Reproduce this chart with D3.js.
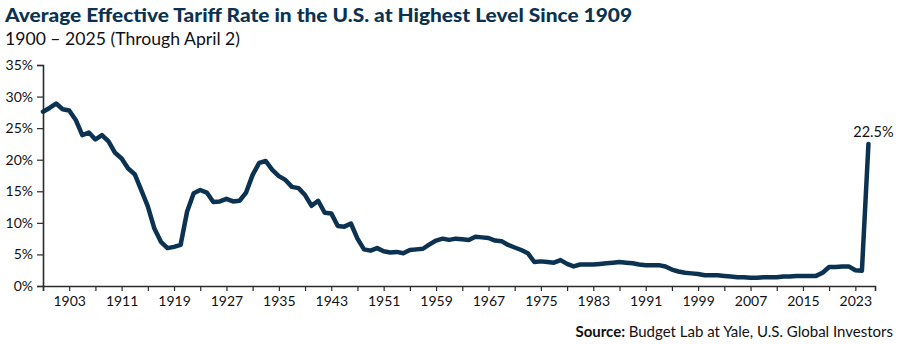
<!DOCTYPE html>
<html>
<head>
<meta charset="utf-8">
<script src="https://cdn.jsdelivr.net/npm/d3@7"></script>
<style>
  body { margin: 0; background: #fff; }
  text { font-family: Lato, "Open Sans", sans-serif; }
</style>
</head>
<body>
<div id="chart"></div>
<script>
// years shown on the category axis (first point sits on the axis origin)
const firstYear = 1899;
const lastYear = 2025;
const years = d3.range(firstYear, lastYear + 1);

// average effective tariff rate, %
const rates = [
  27.6,                                                   // 1899
  28.2, 28.9, 28.0, 27.8, 26.3, 23.9, 24.3, 23.2, 23.9, 22.9, // 1900s
  21.1, 20.2, 18.6, 17.7, 15.2, 12.6, 9.1, 7.0, 6.0, 6.2,     // 1910s
  6.5, 11.8, 14.7, 15.2, 14.8, 13.3, 13.4, 13.8, 13.4, 13.5,  // 1920s
  14.8, 17.6, 19.5, 19.8, 18.4, 17.4, 16.8, 15.7, 15.5, 14.4, // 1930s
  12.7, 13.5, 11.6, 11.5, 9.5, 9.4, 9.9, 7.5, 5.8, 5.6,       // 1940s
  6.0, 5.5, 5.3, 5.4, 5.2, 5.7, 5.8, 5.9, 6.6, 7.2,           // 1950s
  7.5, 7.3, 7.5, 7.4, 7.3, 7.8, 7.7, 7.6, 7.2, 7.1,           // 1960s
  6.5, 6.1, 5.7, 5.2, 3.8, 3.9, 3.8, 3.7, 4.1, 3.5,           // 1970s
  3.1, 3.4, 3.4, 3.4, 3.5, 3.6, 3.7, 3.8, 3.7, 3.6,           // 1980s
  3.4, 3.3, 3.3, 3.3, 3.1, 2.6, 2.3, 2.1, 2.0, 1.9,           // 1990s
  1.7, 1.7, 1.7, 1.6, 1.5, 1.4, 1.4, 1.3, 1.3, 1.4,           // 2000s
  1.4, 1.4, 1.5, 1.5, 1.6, 1.6, 1.6, 1.6, 2.1, 3.0,           // 2010s
  3.0, 3.1, 3.1, 2.5, 2.4, 22.5                              // 2020-2025
];

const yTicks = [0, 5, 10, 15, 20, 25, 30, 35];
const tickYears = d3.range(1899, 2024, 4);
const labelYears = d3.range(1903, 2024, 8);

const title = 'Average Effective Tariff Rate in the U.S. at Highest Level Since 1909';
const subtitle = '1900 \u2013 2025 (Through April 2)';
const lastLabel = '22.5%';

const width = 900, height = 344;
const margin = {top: 65, right: 25, bottom: 58, left: 43};
const navy = '#0b3251';
const axisColor = '#2b2b2b';

const svg = d3.select('#chart').append('svg')
  .attr('width', width)
  .attr('height', height);

const x = d3.scaleLinear()
  .domain([firstYear, lastYear + 1])
  .range([margin.left, width - margin.right]);

const y = d3.scaleLinear()
  .domain([0, 35])
  .range([height - margin.bottom, margin.top]);

// titles
svg.append('text')
  .attr('x', 5).attr('y', 22)
  .attr('font-size', 19.5).attr('font-weight', 900)
  .attr('fill', navy)
  .attr('textLength', 627).attr('lengthAdjust', 'spacingAndGlyphs')
  .text(title);

svg.append('text')
  .attr('x', 5).attr('y', 45)
  .attr('font-size', 16.5)
  .attr('fill', '#111')
  .attr('textLength', 235).attr('lengthAdjust', 'spacingAndGlyphs')
  .text(subtitle);

// y axis
const yAxis = svg.append('g')
  .attr('transform', `translate(${margin.left},0)`)
  .call(d3.axisLeft(y).tickValues(yTicks).tickFormat(d => d + '%').tickSize(6).tickPadding(4));

// x axis
const xAxis = svg.append('g')
  .attr('transform', `translate(0,${y(0)})`)
  .call(d3.axisBottom(x).tickValues(tickYears).tickSize(5).tickPadding(5)
    .tickFormat(d => labelYears.includes(d) ? d : ''));

[yAxis, xAxis].forEach(g => {
  g.selectAll('.domain').attr('stroke', axisColor).attr('stroke-width', 1.6);
  g.selectAll('.tick line').attr('stroke', axisColor).attr('stroke-width', 1.2);
  g.selectAll('.tick text')
    .attr('fill', '#111')
    .attr('font-size', 14)
    .attr('font-family', 'Lato, "Open Sans", sans-serif');
});

// the series
const line = d3.line()
  .x((d, i) => x(years[i]))
  .y(d => y(d));

svg.append('path')
  .datum(rates)
  .attr('fill', 'none')
  .attr('stroke', navy)
  .attr('stroke-width', 4.5)
  .attr('stroke-linejoin', 'round')
  .attr('stroke-linecap', 'round')
  .attr('d', line);

// value callout on the last point
svg.append('text')
  .attr('x', x(lastYear) + 5)
  .attr('y', y(rates[rates.length - 1]) - 7)
  .attr('text-anchor', 'middle')
  .attr('font-size', 14.5)
  .attr('fill', '#111')
  .text(lastLabel);

// source line
const src = svg.append('text')
  .attr('x', 893).attr('y', 337)
  .attr('text-anchor', 'end')
  .attr('font-size', 15)
  .attr('fill', '#111');
src.append('tspan').attr('font-weight', 700).text('Source: ');
src.append('tspan').text('Budget Lab at Yale, U.S. Global Investors');
</script>
</body>
</html>
